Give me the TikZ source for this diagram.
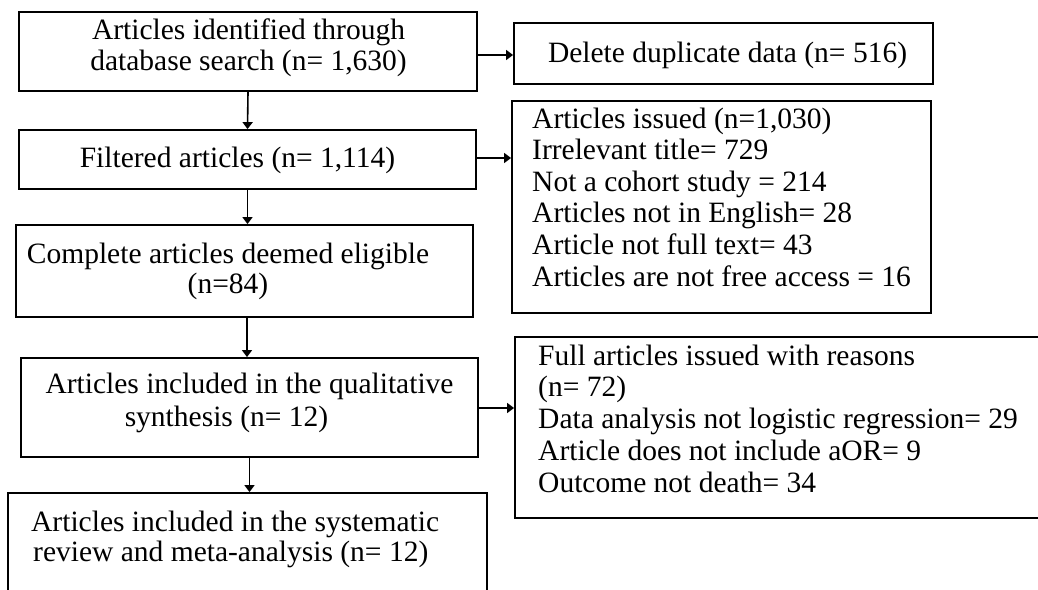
\documentclass[tikz,border=0pt]{standalone}
\usepackage{fontspec}
\setmainfont{Liberation Serif}
\usetikzlibrary{arrows.meta}
\begin{document}
\begin{tikzpicture}[x=1pt,y=-1pt,
  box/.style={draw,line width=1.8pt,rectangle,inner sep=0pt},
  txt/.style={inner sep=0pt,font=\fontsize{29.5}{31.5}\selectfont},
  arr/.style={line width=1.6pt,-{Triangle[length=7pt,width=10pt]}}]
\clip (0,0) rectangle (1038,589);
\fill[white] (0,0) rectangle (1038,589);
% boxes
\node[box,minimum width=458pt,minimum height=79pt]  (b1)  at (248,51.5) {};
\node[box,minimum width=419pt,minimum height=61pt]  (del) at (723.5,53.5) {};
\node[box,minimum width=457pt,minimum height=59pt]  (b2)  at (247.5,159.5) {};
\node[box,minimum width=419pt,minimum height=212pt] (iss) at (721.5,207) {};
\node[box,minimum width=457pt,minimum height=92pt]  (b3)  at (244.5,271) {};
\node[box,minimum width=457pt,minimum height=99pt]  (b4)  at (249.5,407.5) {};
\node[box,minimum width=585pt,minimum height=181pt] (full) at (807.5,427.5) {};
\node[box,minimum width=479pt,minimum height=147pt] (b5)  at (247.5,566.5) {};
% texts
\node[txt,anchor=base] (t1a) at (248.5,39) {Articles identified through};
\node[txt,anchor=base] (t1b) at (248.5,70) {database search (n= 1,630)};
\node[txt,anchor=base] (tdel) at (727.5,62) {Delete duplicate data (n= 516)};
\node[txt,anchor=base] (t2) at (237.5,167) {Filtered articles (n= 1,114)};
\node[txt,anchor=base] (t3a) at (228,263) {Complete articles deemed eligible};
\node[txt,anchor=base] (t3b) at (228,293) {(n=84)};
\node[txt,anchor=base] (t4a) at (249.5,393) {Articles included in the qualitative};
\node[txt,anchor=base] (t4b) at (226.5,426) {synthesis (n= 12)};
\node[txt,anchor=base west] (ti1) at (532,128) {Articles issued (n=1,030)};
\node[txt,anchor=base west] (ti2) at (532,159.6) {Irrelevant title= 729};
\node[txt,anchor=base west] (ti3) at (532,191.2) {Not a cohort study = 214};
\node[txt,anchor=base west] (ti4) at (532,222.8) {Articles not in English= 28};
\node[txt,anchor=base west] (ti5) at (532,254.4) {Article not full text= 43};
\node[txt,anchor=base west] (ti6) at (532,286) {Articles are not free access = 16};
\node[txt,anchor=base west] (tf1) at (538,365) {Full articles issued with reasons};
\node[txt,anchor=base west] (tf2) at (538,396.75) {(n= 72)};
\node[txt,anchor=base west] (tf3) at (538,428.5) {Data analysis not logistic regression= 29};
\node[txt,anchor=base west] (tf4) at (538,460.25) {Article does not include aOR= 9};
\node[txt,anchor=base west] (tf5) at (538,492) {Outcome not death= 34};
\node[txt,anchor=base west] (t5a) at (31,531) {Articles included in the systematic};
\node[txt,anchor=base west] (t5b) at (33,561) {review and meta-analysis (n= 12)};
% connectors
\coordinate (y1) at (0,55);
\draw[arr] (b1.east |- y1) -- (del.west |- y1);
\coordinate (y2) at (0,158);
\draw[arr] (b2.east |- y2) -- (iss.west |- y2);
\coordinate (y3) at (0,408);
\draw[arr] (b4.east |- y3) -- (full.west |- y3);
\draw[arr] (b1.south) -- (b2.north);
\draw[arr] (b2.south) -- (b2.south |- b3.north);
\coordinate (x3) at (247,0);
\draw[arr] (b3.south -| x3) -- (b4.north -| x3);
\draw[arr] (b4.south) -- (b4.south |- b5.north);
\end{tikzpicture}
\end{document}
